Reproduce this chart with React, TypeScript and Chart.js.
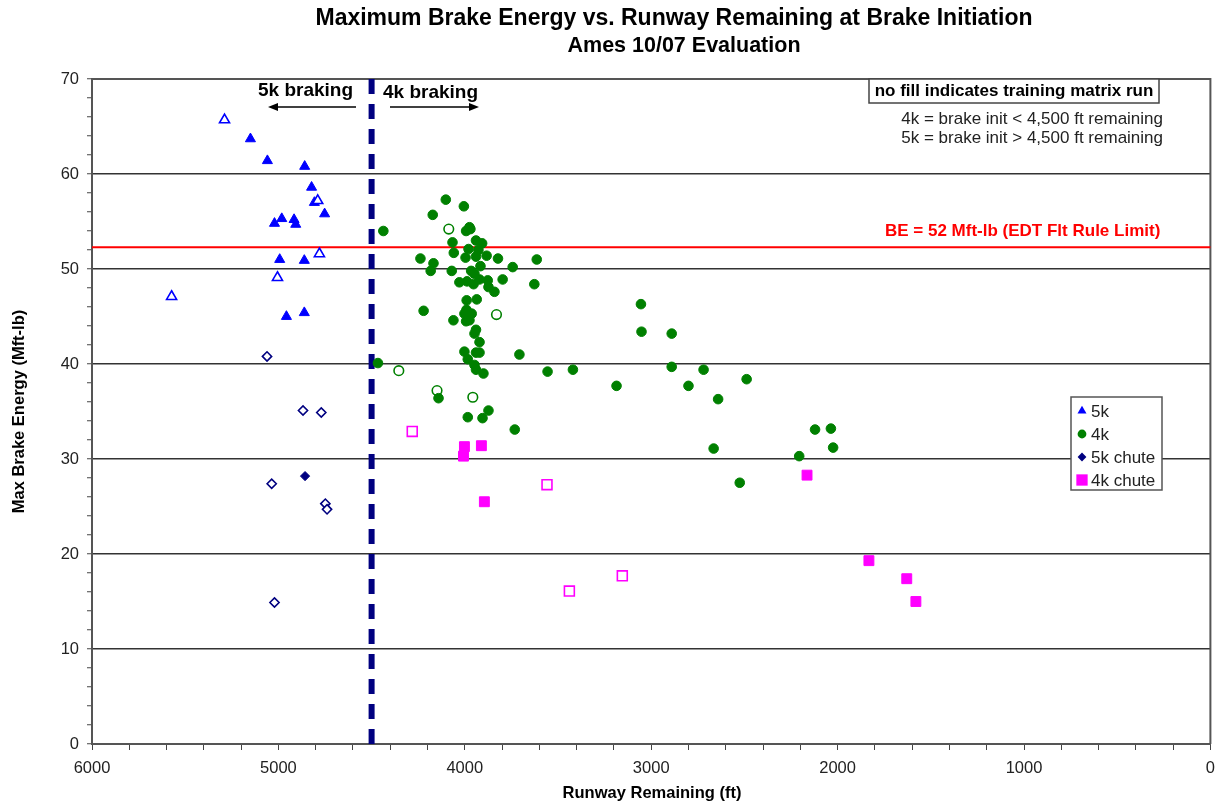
import React, { useEffect, useRef } from 'react';
import { Chart, registerables } from 'chart.js';

Chart.register(...registerables);

const FONT = '"Liberation Sans", Arial, sans-serif';

// ---- Data (runway remaining ft, max brake energy Mft-lb, open marker = training matrix run) ----
const seriesNames = ['5k', '4k', '5k chute', '4k chute'];
const seriesColors = ['#0000FF', '#008000', '#000080', '#FF00FF'];

const fiveKX = [5289, 5150, 5059, 4859, 4822, 4807, 4789, 4752, 4982, 5021, 4916, 4907, 4993, 4861, 4780, 5005, 5573, 4957, 4861];
const fiveKY = [65.7, 63.7, 61.4, 60.8, 58.6, 57.0, 57.2, 55.8, 55.3, 54.8, 55.2, 54.7, 51.0, 50.9, 51.6, 49.1, 47.1, 45.0, 45.4];
const fiveKOpen = [true, false, false, false, false, false, true, false, false, false, false, false, false, false, true, true, true, false, false];

const fourKX = [
  4437, 4102, 4005, 4172, 4086, 3975, 3993, 3970, 4066, 3940, 3907, 3980, 4059, 3927, 4238, 3996, 3940, 3883, 3822, 3614,
  4168, 3916, 3743, 4183, 4070, 3966, 3948, 4029, 3988, 3953, 3921, 3877, 3797, 3627, 3873, 3841, 3990, 3936, 4221, 3991,
  3830, 4002, 3963, 4061, 3993, 3975, 3940, 3948, 3921, 4002, 3940, 3921, 3707, 3984, 4466, 3948, 3940, 3900, 4354, 3556,
  4149, 4141, 3957, 3873, 3984, 3905, 3732,
  3055, 3052, 2890, 3420, 3186, 2890, 2719, 2800, 2641, 2488, 2121, 2036, 2024, 2206, 2665, 2525,
];
const fourKY = [
  54.0, 57.3, 56.6, 55.7, 54.2, 54.4, 54.0, 54.2, 52.8, 53.0, 52.7, 52.1, 51.7, 52.0, 51.1, 51.2, 51.3, 51.4, 51.1, 51.0,
  50.6, 50.3, 50.2, 49.8, 49.8, 49.8, 49.5, 48.6, 48.7, 48.4, 48.9, 48.8, 48.9, 48.4, 48.1, 47.6, 46.7, 46.8, 45.6, 45.7,
  45.2, 45.3, 45.3, 44.6, 44.5, 44.6, 43.6, 43.2, 42.3, 41.3, 41.2, 41.2, 41.0, 40.5, 40.1, 39.9, 39.4, 39.0, 39.3, 39.2,
  37.2, 36.4, 36.5, 35.1, 34.4, 34.3, 33.1,
  46.3, 43.4, 43.2, 39.4, 37.7, 39.7, 39.4, 37.7, 36.3, 38.4, 33.1, 33.2, 31.2, 30.3, 31.1, 27.5,
];
const fourKOpen = [
  false, false, false, false, true, false, false, false, false, false, false, false, false, false, false, false, false, false, false, false,
  false, false, false, false, false, false, false, false, false, false, false, false, false, false, false, false, false, false, false, false,
  true, false, false, false, false, false, false, false, false, false, false, false, false, false, false, false, false, false, true, false,
  true, false, true, false, false, false, false,
  false, false, false, false, false, false, false, false, false, false, false, false, false, false, false, false,
];

const fiveKChuteX = [5061, 4868, 4770, 4857, 5036, 4748, 4739, 5021];
const fiveKChuteY = [40.8, 35.1, 34.9, 28.2, 27.4, 25.3, 24.7, 14.9];
const fiveKChuteOpen = [true, true, true, false, true, true, true, true];

const fourKChuteX = [4282, 4002, 3911, 4007, 3559, 3895, 2164, 1832, 3155, 3439, 1629, 1580];
const fourKChuteY = [32.9, 31.3, 31.4, 30.3, 27.3, 25.5, 28.3, 19.3, 17.7, 16.1, 17.4, 15.0];
const fourKChuteOpen = [true, false, false, false, true, false, false, false, true, true, false, false];

const brakeLimitBE = 52.3;
const brakeSplitFt = 4500;

const titleLines = ['Maximum Brake Energy vs. Runway Remaining at Brake Initiation', 'Ames 10/07 Evaluation'];
const xAxisTitle = 'Runway Remaining (ft)';
const yAxisTitle = 'Max Brake Energy (Mft-lb)';
const limitLabel = 'BE = 52 Mft-lb (EDT Flt Rule Limit)';
const noteBoxText = 'no fill indicates training matrix run';
const noteLines = ['4k = brake init < 4,500 ft remaining', '5k = brake init > 4,500 ft remaining'];

const pointStyles = ['triangle', 'circle', 'rectRot', 'rect'];
const pointRadii = [5.8, 4.8, 4.6, 7];

function makeDataset(idx: number, xs: number[], ys: number[], open: boolean[]) {
  const color = seriesColors[idx];
  return {
    label: seriesNames[idx],
    data: xs.map((x, i) => ({ x, y: ys[i] })),
    pointStyle: pointStyles[idx],
    pointRadius: pointRadii[idx],
    pointHoverRadius: pointRadii[idx],
    backgroundColor: open.map((o) => (o ? '#FFFFFF' : color)),
    borderColor: color,
    borderWidth: open.map((o) => (o ? 1.6 : 1)),
    showLine: false,
  };
}

function drawMarker(ctx: CanvasRenderingContext2D, style: string, x: number, y: number, r: number) {
  ctx.beginPath();
  if (style === 'triangle') {
    ctx.moveTo(x, y - r);
    ctx.lineTo(x + r * Math.sin((2 * Math.PI) / 3), y - r * Math.cos((2 * Math.PI) / 3));
    ctx.lineTo(x + r * Math.sin((4 * Math.PI) / 3), y - r * Math.cos((4 * Math.PI) / 3));
    ctx.closePath();
  } else if (style === 'circle') {
    ctx.arc(x, y, r, 0, Math.PI * 2);
  } else if (style === 'rectRot') {
    ctx.moveTo(x - r, y);
    ctx.lineTo(x, y - r);
    ctx.lineTo(x + r, y);
    ctx.lineTo(x, y + r);
    ctx.closePath();
  } else {
    const s = Math.SQRT1_2 * r;
    ctx.rect(x - s, y - s, 2 * s, 2 * s);
  }
  ctx.fill();
}

function arrow(ctx: CanvasRenderingContext2D, x1: number, x2: number, y: number) {
  const dir = x2 > x1 ? 1 : -1;
  ctx.strokeStyle = '#000';
  ctx.fillStyle = '#000';
  ctx.lineWidth = 1.3;
  ctx.beginPath();
  ctx.moveTo(x1, y);
  ctx.lineTo(x2 - dir * 8, y);
  ctx.stroke();
  ctx.beginPath();
  ctx.moveTo(x2, y);
  ctx.lineTo(x2 - dir * 10, y - 4);
  ctx.lineTo(x2 - dir * 10, y + 4);
  ctx.closePath();
  ctx.fill();
}

const annotationPlugin = {
  id: 'annotations',
  beforeDatasetsDraw(chart: any) {
    const { ctx, chartArea, scales } = chart;
    const { left, right, top, bottom } = chartArea;
    ctx.save();
    ctx.strokeStyle = '#555';
    ctx.lineWidth = 2;
    ctx.beginPath();
    ctx.moveTo(left, top);
    ctx.lineTo(right, top);
    ctx.lineTo(right, bottom);
    ctx.stroke();
    const yl = scales.y.getPixelForValue(brakeLimitBE);
    ctx.strokeStyle = '#FF0000';
    ctx.lineWidth = 2;
    ctx.beginPath();
    ctx.moveTo(left, yl);
    ctx.lineTo(right, yl);
    ctx.stroke();
    const xs = scales.x.getPixelForValue(brakeSplitFt);
    ctx.strokeStyle = '#000080';
    ctx.lineWidth = 6;
    ctx.setLineDash([15, 10]);
    ctx.beginPath();
    ctx.moveTo(xs, top);
    ctx.lineTo(xs, bottom);
    ctx.stroke();
    ctx.setLineDash([]);
    ctx.restore();
  },
  afterDraw(chart: any) {
    const { ctx, chartArea } = chart;
    const { top, bottom } = chartArea;
    ctx.save();
    ctx.fillStyle = '#000';
    ctx.textAlign = 'center';
    ctx.textBaseline = 'middle';
    ctx.font = `bold 23px ${FONT}`;
    ctx.fillText(titleLines[0], 674, 19);
    ctx.font = `bold 21.5px ${FONT}`;
    ctx.fillText(titleLines[1], 684, 46);

    ctx.font = `bold 16.5px ${FONT}`;
    ctx.fillText(xAxisTitle, 652, 793);
    ctx.save();
    ctx.translate(19, (top + bottom) / 2);
    ctx.rotate(-Math.PI / 2);
    ctx.fillText(yAxisTitle, 0, 0);
    ctx.restore();

    ctx.font = `bold 19px ${FONT}`;
    ctx.textAlign = 'left';
    ctx.fillText('5k braking', 258, 91);
    ctx.fillText('4k braking', 383, 93);
    arrow(ctx, 356, 268, 107);
    arrow(ctx, 390, 479, 107);

    ctx.fillStyle = '#FFF';
    ctx.fillRect(869, 79, 290, 24);
    ctx.strokeStyle = '#444';
    ctx.lineWidth = 1.5;
    ctx.strokeRect(869, 79, 290, 24);
    ctx.fillStyle = '#000';
    ctx.textAlign = 'center';
    ctx.font = `bold 17px ${FONT}`;
    ctx.fillText(noteBoxText, 1014, 91);
    ctx.font = `17px ${FONT}`;
    ctx.textAlign = 'right';
    ctx.fillStyle = '#222';
    ctx.fillText(noteLines[0], 1163, 119);
    ctx.fillText(noteLines[1], 1163, 138);

    ctx.fillStyle = '#FF0000';
    ctx.font = `bold 17px ${FONT}`;
    ctx.textAlign = 'left';
    ctx.fillText(limitLabel, 885, 231);

    ctx.fillStyle = '#FFF';
    ctx.fillRect(1071, 397, 91, 93);
    ctx.strokeStyle = '#555';
    ctx.lineWidth = 1.5;
    ctx.strokeRect(1071, 397, 91, 93);
    const rows = [411, 434, 457, 480];
    ctx.font = `17px ${FONT}`;
    ctx.textAlign = 'left';
    seriesNames.forEach((name, i) => {
      ctx.fillStyle = seriesColors[i];
      const r = i === 3 ? 8 : i === 0 ? 5.2 : 4.4;
      drawMarker(ctx, pointStyles[i], 1082, rows[i], r);
      ctx.fillStyle = '#222';
      ctx.fillText(name, 1091, rows[i] + 1);
    });
    ctx.restore();
  },
};

export default function App() {
  const canvasRef = useRef<HTMLCanvasElement | null>(null);

  useEffect(() => {
    const canvas = canvasRef.current;
    if (!canvas) return;
    const chart = new Chart(canvas, {
      type: 'scatter',
      data: {
        datasets: [
          makeDataset(0, fiveKX, fiveKY, fiveKOpen),
          makeDataset(1, fourKX, fourKY, fourKOpen),
          makeDataset(2, fiveKChuteX, fiveKChuteY, fiveKChuteOpen),
          makeDataset(3, fourKChuteX, fourKChuteY, fourKChuteOpen),
        ] as any,
      },
      options: {
        responsive: false,
        animation: false,
        layout: { padding: { left: 0, right: 5, top: 79, bottom: 0 } },
        plugins: {
          legend: { display: false },
          title: { display: false },
          tooltip: { enabled: false },
        },
        scales: {
          x: {
            type: 'linear',
            reverse: true,
            min: 0,
            max: 6000,
            afterFit: (scale: any) => {
              scale.height = 60;
              scale.paddingLeft = 0;
              scale.paddingRight = 0;
            },
            ticks: {
              stepSize: 200,
              autoSkip: false,
              maxRotation: 0,
              padding: 9,
              color: '#222',
              font: { family: FONT, size: 16.5 },
              callback: (v: any) => (Number(v) % 1000 === 0 ? String(v) : ''),
            },
            grid: {
              drawOnChartArea: false,
              drawTicks: true,
              tickLength: 6,
              tickColor: '#444',
              tickWidth: 1,
            },
            border: { display: true, color: '#555', width: 2 },
          },
          y: {
            type: 'linear',
            min: 0,
            max: 70,
            afterFit: (scale: any) => {
              scale.width = 92;
              scale.paddingTop = 0;
              scale.paddingBottom = 0;
            },
            ticks: {
              stepSize: 2,
              autoSkip: false,
              padding: 8,
              color: '#222',
              font: { family: FONT, size: 16.5 },
              callback: (v: any) => (Number(v) % 10 === 0 ? String(v) : ''),
            },
            grid: {
              color: (c: any) => {
                const v = c.tick ? c.tick.value : -1;
                return v % 10 === 0 && v !== 0 && v !== 70 ? '#333' : 'rgba(0,0,0,0)';
              },
              lineWidth: 1.5,
              tickLength: 5,
              tickColor: '#444',
              tickWidth: 1,
            },
            border: { display: true, color: '#555', width: 2 },
          },
        },
      },
      plugins: [annotationPlugin],
    });
    return () => chart.destroy();
  }, []);

  return (
    <div style={{ position: 'absolute', left: 0, top: 0, width: 1219, height: 804, background: '#fff', overflow: 'hidden' }}>
      <canvas ref={canvasRef} width={1219} height={804} style={{ display: 'block' }} />
    </div>
  );
}
